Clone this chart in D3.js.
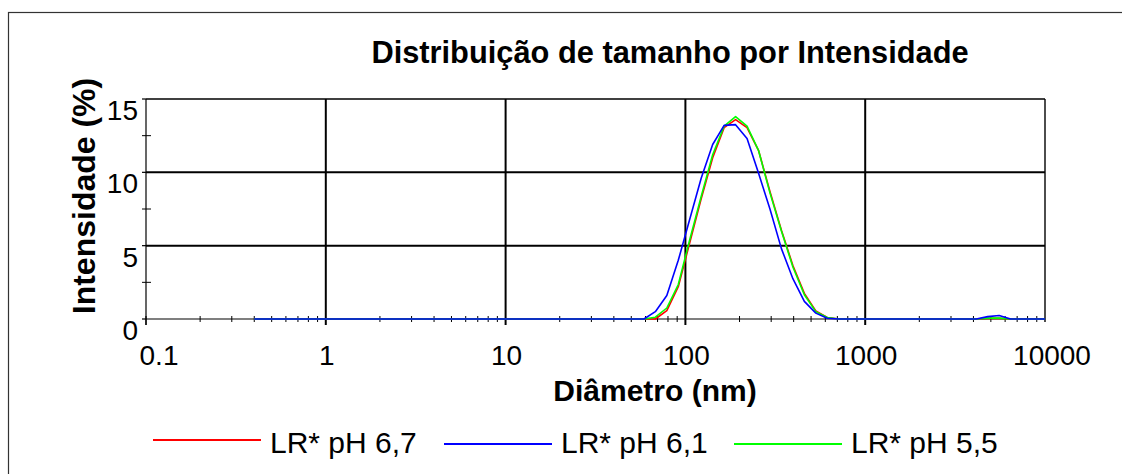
<!DOCTYPE html>
<html>
<head>
<meta charset="utf-8">
<script src="https://cdn.jsdelivr.net/npm/d3@7"></script>
<style>
  html, body { margin: 0; padding: 0; background: #fff; }
  svg { display: block; font-family: "Liberation Sans", Arial, sans-serif; }
</style>
</head>
<body>
<svg id="chart" width="1122" height="474"></svg>
<script>
// Size classes (nm) of the DLS instrument
const diameters = [0.4, 0.4632, 0.5365, 0.6213, 0.7195, 0.8332, 0.9649, 1.117, 1.294, 1.499,
  1.736, 2.01, 2.328, 2.696, 3.122, 3.615, 4.187, 4.849, 5.615, 6.503,
  7.531, 8.721, 10.1, 11.7, 13.54, 15.69, 18.17, 21.04, 24.36, 28.21,
  32.67, 37.84, 43.82, 50.75, 58.77, 68.06, 78.82, 91.28, 105.7, 122.4,
  141.8, 164.2, 190.1, 220.2, 255, 295.3, 342, 396.1, 458.7, 531.2,
  615.1, 712.4, 825, 955.4, 1106, 1281, 1484, 1718, 1990, 2305,
  2669, 3091, 3580, 4145, 4801, 5560, 6439, 7456, 8635, 10000];

// Intensity (%) per size class
const intensityPH67 = [0, 0, 0, 0, 0, 0, 0, 0, 0, 0,
  0, 0, 0, 0, 0, 0, 0, 0, 0, 0,
  0, 0, 0, 0, 0, 0, 0, 0, 0, 0,
  0, 0, 0, 0, 0, 0, 0.57, 2.2, 5.2, 8.2,
  11.0, 13.05, 13.6, 13.05, 11.5, 8.7, 6.05, 3.65, 1.75, 0.55,
  0.1, 0, 0, 0, 0, 0, 0, 0, 0, 0,
  0, 0, 0, 0, 0.04, 0.04, 0, 0, 0, 0];

const intensityPH61 = [0, 0, 0, 0, 0, 0, 0, 0, 0, 0,
  0, 0, 0, 0, 0, 0, 0, 0, 0, 0,
  0, 0, 0, 0, 0, 0, 0, 0, 0, 0,
  0, 0, 0, 0, 0, 0.5, 1.6, 4.0, 6.8, 9.6,
  11.9, 13.2, 13.25, 12.3, 9.95, 7.5, 4.8, 2.75, 1.2, 0.4,
  0.05, 0, 0, 0, 0, 0, 0, 0, 0, 0,
  0, 0, 0, 0, 0.16, 0.24, 0, 0, 0, 0];

const intensityPH55 = [0, 0, 0, 0, 0, 0, 0, 0, 0, 0,
  0, 0, 0, 0, 0, 0, 0, 0, 0, 0,
  0, 0, 0, 0, 0, 0, 0, 0, 0, 0,
  0, 0, 0, 0, 0, 0.12, 0.75, 2.35, 5.4, 8.35,
  11.2, 13.15, 13.8, 13.15, 11.5, 8.6, 6.0, 3.55, 1.65, 0.5,
  0.1, 0, 0, 0, 0, 0, 0, 0, 0, 0,
  0, 0, 0, 0, 0.06, 0.06, 0, 0, 0, 0];

const seriesNames = ["LR* pH 6,7", "LR* pH 6,1", "LR* pH 5,5"];
const seriesColors = ["#ff0000", "#0000ff", "#00ff00"];

const xTickValues = [0.1, 1, 10, 100, 1000, 10000];
const xTickLabels = ["0.1", "1", "10", "100", "1000", "10000"];
const yTickValues = [0, 5, 10, 15];
const yMinorTicks = [2.5, 7.5, 12.5];

const titleText = "Distribuição de tamanho por Intensidade";
const xTitle = "Diâmetro (nm)";
const yTitle = "Intensidade (%)";

// ---- layout ----
const plot = { left: 146, right: 1045, top: 99, bottom: 319 };
const svg = d3.select("#chart");

const x = d3.scaleLog().domain([0.1, 10000]).range([plot.left, plot.right]);
const y = d3.scaleLinear().domain([0, 15]).range([plot.bottom, plot.top]);

// outer frame
svg.append("rect")
  .attr("x", 8.5).attr("y", 12.5)
  .attr("width", 1140).attr("height", 500)
  .attr("fill", "none").attr("stroke", "#333").attr("stroke-width", 1.2);

// title
svg.append("text")
  .attr("x", 670).attr("y", 63)
  .attr("text-anchor", "middle")
  .attr("font-weight", "bold").attr("font-size", 30.8)
  .text(titleText);

// grid lines
const grid = svg.append("g");
grid.selectAll("line.h").data([5, 10]).join("line")
  .attr("x1", plot.left).attr("x2", plot.right)
  .attr("y1", d => y(d)).attr("y2", d => y(d))
  .attr("stroke", "#000").attr("stroke-width", 2);
grid.selectAll("line.v").data([1, 10, 100, 1000]).join("line")
  .attr("x1", d => x(d)).attr("x2", d => x(d))
  .attr("y1", plot.top).attr("y2", plot.bottom + 6)
  .attr("stroke", "#000").attr("stroke-width", 2);

// plot frame: top and right edges
svg.append("line")
  .attr("x1", plot.left).attr("x2", plot.right)
  .attr("y1", y(15)).attr("y2", y(15))
  .attr("stroke", "#000").attr("stroke-width", 1.4);
svg.append("line")
  .attr("x1", x(10000)).attr("x2", x(10000))
  .attr("y1", plot.top).attr("y2", plot.bottom + 3)
  .attr("stroke", "#000").attr("stroke-width", 1.4);

// x axis
const xMinor = [];
for (let e = -1; e < 4; e++) {
  for (let m = 2; m <= 9; m++) xMinor.push(m * Math.pow(10, e));
}
const xAxisG = svg.append("g");
xAxisG.append("line")
  .attr("x1", plot.left).attr("x2", plot.right)
  .attr("y1", plot.bottom).attr("y2", plot.bottom)
  .attr("stroke", "#000").attr("stroke-width", 1.2);
xAxisG.selectAll("line.minor").data(xMinor).join("line")
  .attr("x1", d => x(d)).attr("x2", d => x(d))
  .attr("y1", plot.bottom - 3).attr("y2", plot.bottom + 3)
  .attr("stroke", "#000").attr("stroke-width", 1);
xAxisG.selectAll("line.major").data([0.1]).join("line")
  .attr("x1", d => x(d)).attr("x2", d => x(d))
  .attr("y1", plot.bottom - 3).attr("y2", plot.bottom + 6)
  .attr("stroke", "#000").attr("stroke-width", 1.2);
xAxisG.selectAll("text").data(xTickValues).join("text")
  .attr("x", (d, i) => x(d) + (i === 0 ? 13 : i === xTickValues.length - 1 ? 7 : 1))
  .attr("y", 365)
  .attr("text-anchor", "middle")
  .attr("font-size", 28)
  .text((d, i) => xTickLabels[i]);

// y axis
const yAxisG = svg.append("g");
yAxisG.append("line")
  .attr("x1", plot.left).attr("x2", plot.left)
  .attr("y1", plot.top).attr("y2", plot.bottom + 6)
  .attr("stroke", "#000").attr("stroke-width", 1.2);
yAxisG.selectAll("line.major").data(yTickValues).join("line")
  .attr("x1", plot.left - 4).attr("x2", plot.left)
  .attr("y1", d => y(d)).attr("y2", d => y(d))
  .attr("stroke", "#000").attr("stroke-width", 1.2);
yAxisG.selectAll("line.minor").data(yMinorTicks).join("line")
  .attr("x1", plot.left - 4).attr("x2", plot.left + 5)
  .attr("y1", d => y(d)).attr("y2", d => y(d))
  .attr("stroke", "#000").attr("stroke-width", 1);
yAxisG.selectAll("text").data(yTickValues).join("text")
  .attr("x", 138)
  .attr("y", d => y(d) + 21)
  .attr("text-anchor", "end")
  .attr("font-size", 28)
  .text(d => d);

// axis titles
svg.append("text")
  .attr("x", 655).attr("y", 401)
  .attr("text-anchor", "middle")
  .attr("font-weight", "bold").attr("font-size", 30)
  .text(xTitle);
svg.append("text")
  .attr("transform", "translate(95,196) rotate(-90)")
  .attr("text-anchor", "middle")
  .attr("font-weight", "bold").attr("font-size", 32)
  .text(yTitle);

// distribution curves
const allSeries = [intensityPH67, intensityPH61, intensityPH55];
const line = d3.line()
  .x((d, i) => x(diameters[i]))
  .y(d => y(d));
const drawOrder = [0, 2, 1];
svg.append("g").selectAll("path").data(drawOrder).join("path")
  .attr("d", k => line(allSeries[k]))
  .attr("fill", "none")
  .attr("stroke", k => seriesColors[k])
  .attr("stroke-width", 1.6)
  .attr("stroke-linejoin", "round");

// legend
const legendItems = [
  { x0: 153, x1: 261, ly: 440, tx: 270 },
  { x0: 444, x1: 552, ly: 444, tx: 561 },
  { x0: 734, x1: 842, ly: 444, tx: 851 }
];
const legend = svg.append("g");
legend.selectAll("line").data(legendItems).join("line")
  .attr("x1", d => d.x0).attr("x2", d => d.x1)
  .attr("y1", d => d.ly).attr("y2", d => d.ly)
  .attr("stroke", (d, i) => seriesColors[i]).attr("stroke-width", 2);
legend.selectAll("text").data(legendItems).join("text")
  .attr("x", d => d.tx).attr("y", 453)
  .attr("font-size", 30)
  .text((d, i) => seriesNames[i]);
</script>
</body>
</html>
